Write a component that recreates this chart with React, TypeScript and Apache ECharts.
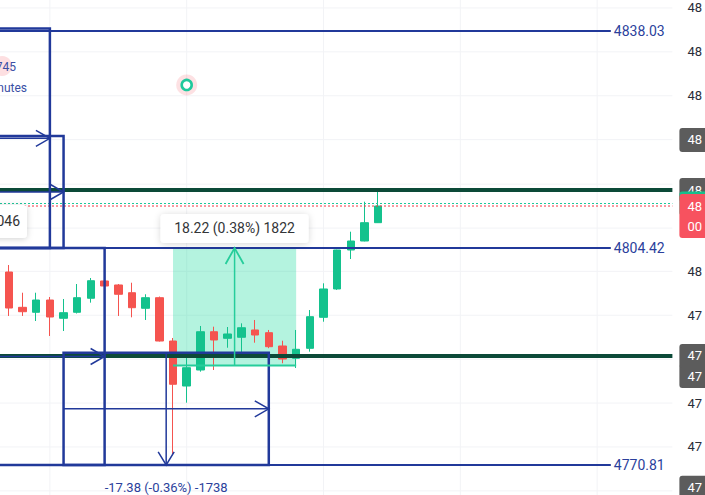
import { useEffect, useRef } from "react";
import * as echarts from "echarts";

const FONT = "Roboto, 'Noto Sans', sans-serif";
const BLUE = "#21399a";
const BLUE_TEXT = "#2b3f9c";
const DARK = "#0c4a38";
const UP = "#14c28d";
const DOWN = "#f5544f";
const MINT_FILL = "rgba(8, 214, 150, 0.3)";
const MINT_LINE = "#26cd9b";

// categories (bar slots, only the first 28 hold candles)
const categories: string[] = Array.from({ length: 49 }, (_, i) => String(i + 1));

// candles
const opens = [4800.70, 4795.23, 4794.46, 4796.36, 4793.53, 4794.46, 4796.63, 4799.31, 4798.69, 4797.49, 4795.08, 4796.72, 4790.01, 4783.04, 4785.52, 4791.45, 4790.43, 4790.59, 4791.72, 4791.30, 4789.24, 4787.33, 4788.88, 4793.68, 4798.07, 4804.11, 4805.50, 4808.34];
const closes = [4795.12, 4794.55, 4796.36, 4793.73, 4794.40, 4796.72, 4799.35, 4798.53, 4797.25, 4795.17, 4796.72, 4790.01, 4783.31, 4785.88, 4791.45, 4790.17, 4791.10, 4792.07, 4790.94, 4789.13, 4787.22, 4788.73, 4793.78, 4798.07, 4804.11, 4805.50, 4808.34, 4810.92];
const lows = [4793.89, 4793.89, 4793.11, 4790.79, 4791.56, 4794.27, 4795.95, 4797.14, 4793.89, 4793.68, 4793.27, 4789.93, 4772.36, 4780.46, 4785.26, 4785.52, 4788.97, 4788.11, 4789.75, 4788.90, 4786.56, 4785.83, 4788.36, 4793.00, 4797.92, 4802.71, 4805.45, 4808.30];
const highs = [4801.78, 4797.49, 4797.49, 4796.83, 4796.52, 4798.84, 4799.77, 4800.55, 4798.84, 4799.04, 4797.25, 4796.90, 4790.48, 4788.00, 4792.34, 4792.23, 4792.18, 4792.75, 4793.27, 4791.72, 4790.06, 4791.72, 4794.81, 4798.95, 4804.15, 4806.94, 4811.59, 4813.14];

// price scale
const yMin = 4766.16;
const yMax = 4842.83;
const priceTicks = [4841.6, 4834.8, 4828.0, 4821.2, 4814.3, 4807.5, 4800.8, 4794.0, 4787.2, 4780.4, 4773.6, 4766.8];
const priceTickLabels = [4841.6, 4834.8, 4828.0, 4800.8, 4794.0, 4780.4, 4773.6];
const timeGridCols = [3, 13, 23, 33, 43];

// horizontal blue levels
const blueLevels = [4838.03, 4804.42, 4770.81];
const blueLevelLabels = ["4838.03", "4804.42", "4770.81"];
const levelStart = -12;
const levelEnd = 44;

// dark green support / resistance lines
const darkLevels = [4813.40, 4787.69];

// bid / ask lines
const quoteLines = [4811.31, 4810.92];
const quoteColors = ["#1fc79a", "#f23645"];

// date & price ranges
const rangeStart = [-20, -20, -20, 4];
const rangeEnd = [3, 4, 7, 19];
const rangeTop = [4838.40, 4821.77, 4804.42, 4788.19];
const rangeBottom = [4804.42, 4804.42, 4770.81, 4770.81];
const rangeLabels = ["", "", "", "-17.38 (-0.36%) -1738"];

// price range measurement
const measureStart = [12];
const measureEnd = [21];
const measureFrom = [4786.20];
const measureTo = [4804.42];
const measureLabels = ["18.22 (0.38%) 1822"];

// alert marker
const alertPoints = [[13, 4829.67]];

// right-scale tags
const tagPrices = [4821.15, 4813.40, 4811.31, 4810.92, 4784.59, 4787.69, 4767.30];
const tagTexts = ["48", "48", "", "48\n00", "47", "47", "47"];
const tagColors = ["#5c5c5c", "#5c5c5c", "#16c08c", "#f7525f", "#5c5c5c", "#5c5c5c", "#5c5c5c"];

function chevron(tip: number[], dir: "right" | "down" | "up", len: number, half: number, color: string, width: number) {
  const [x, y] = tip;
  let pts: number[][];
  if (dir === "right") pts = [[x - len, y - half], [x, y], [x - len, y + half]];
  else if (dir === "down") pts = [[x - half, y - len], [x, y], [x + half, y - len]];
  else pts = [[x - half, y + len], [x, y], [x + half, y + len]];
  return { type: "polyline", shape: { points: pts }, style: { stroke: color, lineWidth: width, fill: "none" } };
}

export default function App() {
  const ref = useRef<HTMLDivElement>(null);

  useEffect(() => {
    if (!ref.current) return;
    const chart = echarts.init(ref.current, undefined, { renderer: "svg" });

    const option: any = {
      animation: false,
      backgroundColor: "#ffffff",
      grid: { left: 2, right: 32, top: 0, bottom: 0, containLabel: false },
      xAxis: [
        {
          type: "category",
          data: categories,
          boundaryGap: true,
          show: false,
        },
        {
          type: "value",
          min: -0.5,
          max: categories.length - 0.5,
          show: false,
        },
      ],
      yAxis: {
        type: "value",
        position: "right",
        min: yMin,
        max: yMax,
        axisLine: { show: false },
        axisTick: { show: false },
        splitLine: { show: false },
        axisLabel: {
          customValues: priceTickLabels,
          margin: 15,
          color: "#2a2e39",
          fontSize: 13,
          fontFamily: FONT,
          formatter: (v: number) => String(Math.floor(v / 100)),
        },
      },
      graphic: [
        { type: "circle", shape: { cx: 2, cy: 66, r: 10 }, style: { fill: "rgba(242,54,69,0.16)" }, z: 20 },
        { type: "text", style: { text: "745", x: 16, y: 67, align: "right", verticalAlign: "middle", fill: "#3a4fa5", fontSize: 12, fontFamily: FONT }, z: 21 },
        { type: "text", style: { text: "nutes", x: 27, y: 88, align: "right", verticalAlign: "middle", fill: "#3a4fa5", fontSize: 12, fontFamily: FONT }, z: 21 },
        {
          type: "rect",
          shape: { x: -12, y: 205, width: 39, height: 33, r: 4 },
          style: { fill: "#ffffff", shadowBlur: 6, shadowColor: "rgba(0,0,0,0.18)", shadowOffsetY: 1 },
          z: 20,
        },
        { type: "text", style: { text: "046", x: 20, y: 221, align: "right", verticalAlign: "middle", fill: "#333333", fontSize: 14, fontFamily: FONT }, z: 21 },
      ],
      series: [
        // faint grid
        {
          type: "custom",
          xAxisIndex: 1,
          yAxisIndex: 0,
          silent: true,
          z: 0,
          clip: false,
          data: priceTicks.map((p) => [0, p]),
          renderItem: (params: any, api: any) => {
            const cs = params.coordSys;
            const y = api.coord([0, api.value(1)])[1];
            return { type: "line", shape: { x1: 0, y1: y, x2: cs.x + cs.width, y2: y }, style: { stroke: "#f2f3f6", lineWidth: 1 } };
          },
        },
        {
          type: "custom",
          xAxisIndex: 1,
          yAxisIndex: 0,
          silent: true,
          z: 0,
          clip: false,
          data: timeGridCols.map((c) => [c, yMin]),
          renderItem: (params: any, api: any) => {
            const cs = params.coordSys;
            const x = api.coord([api.value(0), yMin])[0];
            return { type: "line", shape: { x1: x, y1: cs.y, x2: x, y2: cs.y + cs.height }, style: { stroke: "#f2f3f6", lineWidth: 1 } };
          },
        },
        // measure fill (behind candles)
        {
          type: "custom",
          xAxisIndex: 1,
          yAxisIndex: 0,
          silent: true,
          z: 1,
          clip: false,
          data: measureStart.map((s, i) => [s, measureEnd[i], measureFrom[i], measureTo[i]]),
          renderItem: (params: any, api: any) => {
            const p1 = api.coord([api.value(0), api.value(3)]);
            const p2 = api.coord([api.value(1), api.value(2)]);
            return { type: "rect", shape: { x: p1[0], y: p1[1], width: p2[0] - p1[0], height: p2[1] - p1[1] }, style: { fill: MINT_FILL } };
          },
        },
        // candles
        {
          type: "candlestick",
          xAxisIndex: 0,
          yAxisIndex: 0,
          z: 3,
          barWidth: 8,
          data: opens.map((o, i) => [o, closes[i], lows[i], highs[i]]),
          itemStyle: { color: UP, color0: DOWN, borderColor: UP, borderColor0: DOWN, borderWidth: 1 },
        },
        // dotted bid / ask lines
        {
          type: "custom",
          xAxisIndex: 1,
          yAxisIndex: 0,
          silent: true,
          z: 4,
          clip: false,
          data: quoteLines.map((p) => [0, p]),
          renderItem: (params: any, api: any) => {
            const cs = params.coordSys;
            const y = api.coord([0, api.value(1)])[1];
            return {
              type: "line",
              shape: { x1: 0, y1: y, x2: cs.x + cs.width, y2: y },
              style: { stroke: quoteColors[params.dataIndex], lineWidth: 1, lineDash: [2, 2] },
            };
          },
        },
        // blue levels
        {
          type: "custom",
          xAxisIndex: 1,
          yAxisIndex: 0,
          silent: true,
          z: 5,
          clip: false,
          data: blueLevels.map((p) => [levelStart, p]),
          renderItem: (params: any, api: any) => {
            const price = api.value(1);
            const a = api.coord([levelStart, price]);
            const b = api.coord([levelEnd, price]);
            return {
              type: "group",
              children: [
                { type: "line", shape: { x1: a[0], y1: a[1], x2: b[0], y2: b[1] }, style: { stroke: BLUE, lineWidth: 2 } },
                {
                  type: "text",
                  style: {
                    text: blueLevelLabels[params.dataIndex],
                    x: b[0] + 3,
                    y: b[1],
                    align: "left",
                    verticalAlign: "middle",
                    fill: BLUE_TEXT,
                    fontSize: 14,
                    fontFamily: FONT,
                  },
                },
              ],
            };
          },
        },
        // dark green levels
        {
          type: "custom",
          xAxisIndex: 1,
          yAxisIndex: 0,
          silent: true,
          z: 5,
          clip: false,
          data: darkLevels.map((p) => [0, p]),
          renderItem: (params: any, api: any) => {
            const cs = params.coordSys;
            const y = api.coord([0, api.value(1)])[1];
            return { type: "line", shape: { x1: 0, y1: y, x2: cs.x + cs.width, y2: y }, style: { stroke: DARK, lineWidth: 4 } };
          },
        },
        // date & price ranges
        {
          type: "custom",
          xAxisIndex: 1,
          yAxisIndex: 0,
          silent: true,
          z: 6,
          clip: false,
          data: rangeStart.map((s, i) => [s, rangeEnd[i], rangeTop[i], rangeBottom[i]]),
          renderItem: (params: any, api: any) => {
            const tl = api.coord([api.value(0), api.value(2)]);
            const br = api.coord([api.value(1), api.value(3)]);
            const xm = (tl[0] + br[0]) / 2;
            const ym = (tl[1] + br[1]) / 2;
            const label = rangeLabels[params.dataIndex];
            const children: any[] = [
              { type: "rect", shape: { x: tl[0], y: tl[1], width: br[0] - tl[0], height: br[1] - tl[1] }, style: { stroke: BLUE, lineWidth: 2.5, fill: "none" } },
              { type: "line", shape: { x1: tl[0], y1: ym, x2: br[0], y2: ym }, style: { stroke: BLUE, lineWidth: 1.5 } },
              chevron([br[0], ym], "right", 14, 8, BLUE, 1.5),
              { type: "line", shape: { x1: xm, y1: tl[1], x2: xm, y2: br[1] }, style: { stroke: BLUE, lineWidth: 1.5 } },
              chevron([xm, br[1]], "down", 13, 8, BLUE, 1.5),
            ];
            if (label) {
              children.push({
                type: "text",
                style: { text: label, x: xm, y: br[1] + 23, align: "center", verticalAlign: "middle", fill: BLUE_TEXT, fontSize: 13, fontFamily: FONT },
              });
            }
            return { type: "group", children };
          },
        },
        // price range measurement lines + label
        {
          type: "custom",
          xAxisIndex: 1,
          yAxisIndex: 0,
          silent: true,
          z: 6,
          clip: false,
          data: measureStart.map((s, i) => [s, measureEnd[i], measureFrom[i], measureTo[i]]),
          renderItem: (params: any, api: any) => {
            const bl = api.coord([api.value(0), api.value(2)]);
            const tr = api.coord([api.value(1), api.value(3)]);
            const xm = (bl[0] + tr[0]) / 2;
            const boxW = 148;
            const boxH = 29;
            return {
              type: "group",
              children: [
                { type: "line", shape: { x1: bl[0], y1: bl[1], x2: tr[0], y2: bl[1] }, style: { stroke: MINT_LINE, lineWidth: 2 } },
                { type: "line", shape: { x1: xm, y1: bl[1], x2: xm, y2: tr[1] }, style: { stroke: MINT_LINE, lineWidth: 1.5 } },
                chevron([xm, tr[1]], "up", 16, 9, MINT_LINE, 1.8),
                {
                  type: "rect",
                  shape: { x: xm - boxW / 2, y: tr[1] - 5 - boxH, width: boxW, height: boxH, r: 4 },
                  style: { fill: "#ffffff", shadowBlur: 7, shadowColor: "rgba(0,0,0,0.16)", shadowOffsetY: 1 },
                },
                {
                  type: "text",
                  style: {
                    text: measureLabels[params.dataIndex],
                    x: xm,
                    y: tr[1] - 5 - boxH / 2,
                    align: "center",
                    verticalAlign: "middle",
                    fill: "#333538",
                    fontSize: 14,
                    fontFamily: FONT,
                  },
                },
              ],
            };
          },
        },
        // alert marker
        {
          type: "custom",
          xAxisIndex: 1,
          yAxisIndex: 0,
          silent: true,
          z: 6,
          clip: false,
          data: alertPoints,
          renderItem: (params: any, api: any) => {
            const p = api.coord([api.value(0), api.value(1)]);
            return {
              type: "group",
              children: [
                { type: "circle", shape: { cx: p[0], cy: p[1], r: 10.5 }, style: { fill: "rgba(242,54,69,0.15)" } },
                { type: "circle", shape: { cx: p[0], cy: p[1], r: 5 }, style: { fill: "#ffffff", stroke: "#1fc99c", lineWidth: 2.6 } },
              ],
            };
          },
        },
        // right scale tags
        {
          type: "custom",
          xAxisIndex: 1,
          yAxisIndex: 0,
          silent: true,
          z: 8,
          clip: false,
          data: tagPrices.map((p) => [0, p]),
          renderItem: (params: any, api: any) => {
            const i = params.dataIndex;
            const cs = params.coordSys;
            const y = api.coord([0, api.value(1)])[1];
            const left = cs.x + cs.width + 7;
            const lines = tagTexts[i] ? tagTexts[i].split("\n") : [];
            const h = 24 + Math.max(0, lines.length - 1) * 20;
            const children: any[] = [
              { type: "rect", shape: { x: left, y: y - 12, width: 40, height: h, r: [3, 0, 0, 3] }, style: { fill: tagColors[i] } },
            ];
            lines.forEach((t, k) => {
              children.push({
                type: "text",
                style: { text: t, x: left + 8, y: y + k * 20, align: "left", verticalAlign: "middle", fill: "#ffffff", fontSize: 13, fontFamily: FONT },
              });
            });
            return { type: "group", children };
          },
        },
      ],
    };

    chart.setOption(option);
    return () => chart.dispose();
  }, []);

  return (
    <div
      ref={ref}
      style={{ position: "fixed", left: 0, top: 0, width: 705, height: 495, background: "#ffffff" }}
    />
  );
}
